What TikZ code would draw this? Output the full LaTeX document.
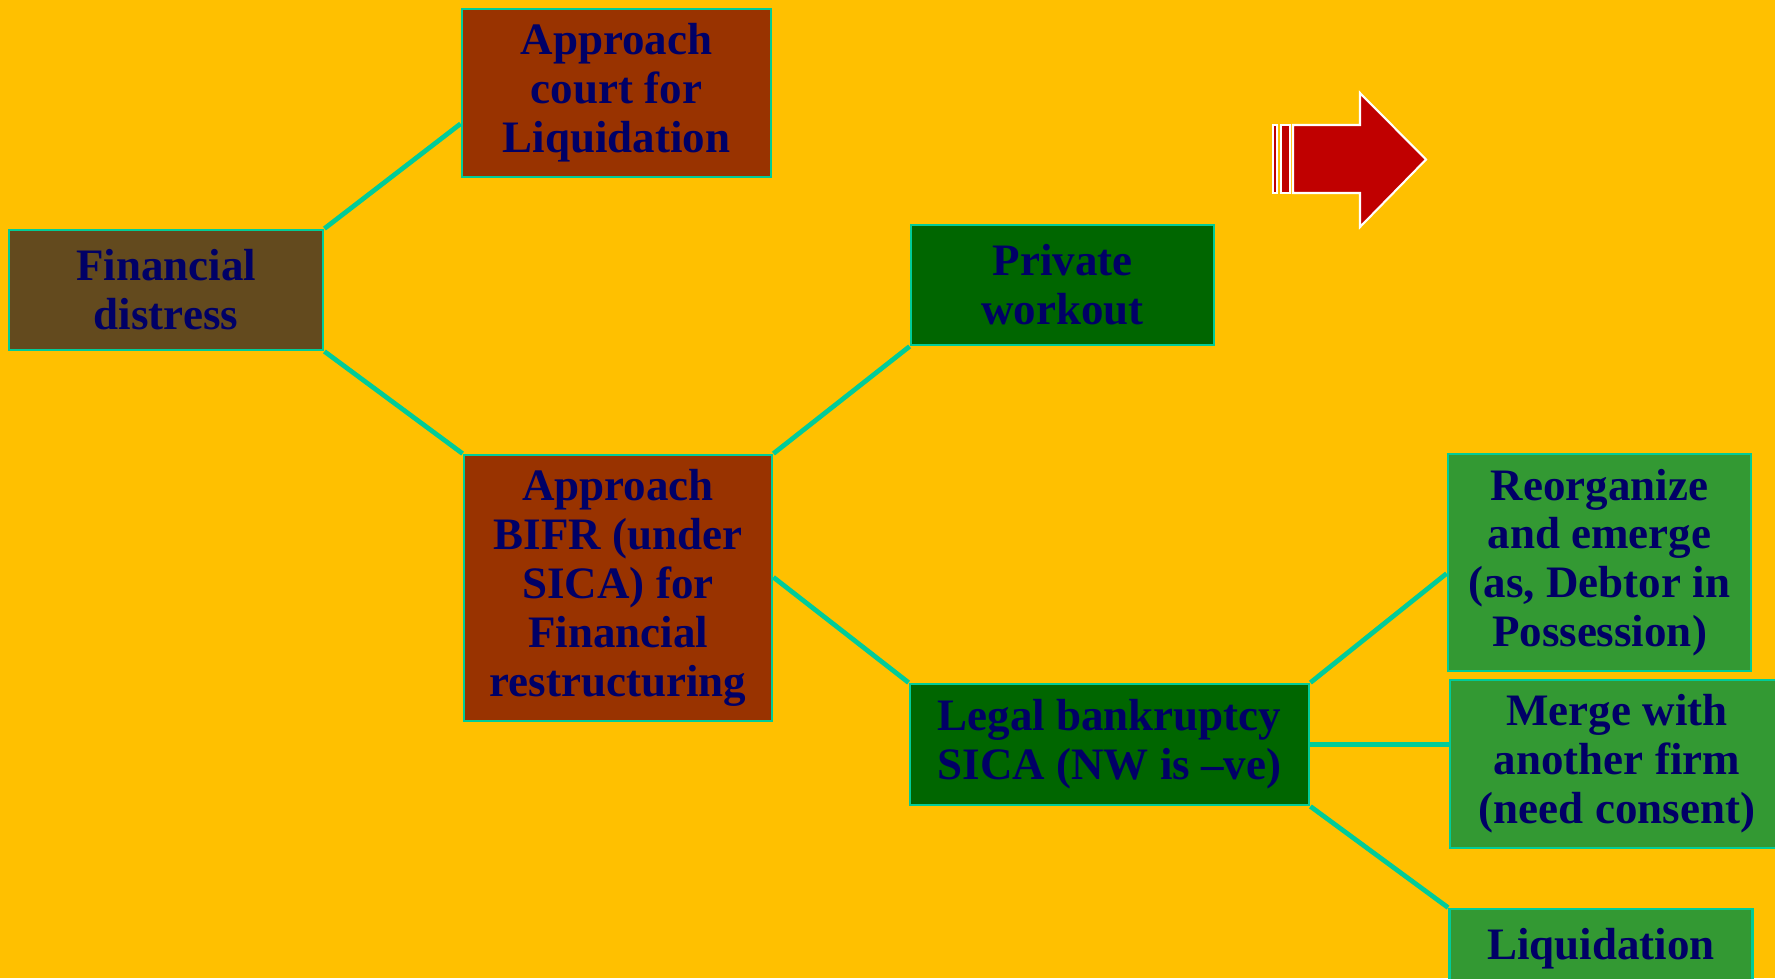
\documentclass[tikz,border=0pt]{standalone}
\usepackage{fontspec}
\setmainfont{Liberation Serif}
\usetikzlibrary{calc}
\definecolor{bgorange}{HTML}{FFC000}
\definecolor{edgeteal}{HTML}{00CC99}
\definecolor{textnavy}{HTML}{000066}
\definecolor{distressbrown}{HTML}{634A1E}
\definecolor{approachrust}{HTML}{993300}
\definecolor{darkgreen}{HTML}{006600}
\definecolor{leafgreen}{HTML}{339933}
\definecolor{arrowred}{HTML}{C00000}

\begin{document}
\begin{tikzpicture}[
  box/.style={draw=edgeteal, line width=0.8pt, inner sep=0pt, align=center,
    text=textnavy, font=\bfseries\fontsize{12.8}{13.9}\selectfont},
  link/.style={draw=edgeteal, line width=1.35pt}
]

\fill[bgorange] (0,0) rectangle (17.75,-9.78);
\useasboundingbox (0,0) rectangle (17.75,-9.78);
\clip (0,0) rectangle (17.75,-9.78);

\coordinate (FD) at (1.66,-2.90);
\coordinate (CO) at (6.165,-0.93);
\coordinate (PW) at (10.625,-2.85);
\coordinate (BI) at (6.18,-5.88);
\coordinate (LE) at (11.095,-7.445);
\coordinate (RE) at (15.995,-5.625);
\coordinate (ME) at (16.17,-7.64);
\coordinate (LI) at (16.01,-9.49);

\node[box, fill=distressbrown, minimum width=3.14cm, minimum height=1.20cm] (fd) at (FD) {Financial\\distress};
\node[box, fill=approachrust, minimum width=3.09cm, minimum height=1.68cm] (court) at (CO) {Approach\\court for\\Liquidation};
\node[box, fill=darkgreen, minimum width=3.03cm, minimum height=1.20cm] (pw) at (PW) {Private\\workout};
\node[box, fill=approachrust, minimum width=3.08cm, minimum height=2.66cm] (bifr) at (BI) {Approach\\BIFR (under\\SICA) for\\Financial\\restructuring};
\node[box, fill=darkgreen, minimum width=3.99cm, minimum height=1.21cm] (legal) at (LE) {Legal bankruptcy\\SICA (NW is –ve)};
\node[box, fill=leafgreen, minimum width=3.03cm, minimum height=2.17cm] (reorg) at (RE) {Reorganize\\and emerge\\(as, Debtor in\\Possession)};
\node[box, fill=leafgreen, minimum width=3.34cm, minimum height=1.68cm] (merge) at (ME) {Merge with\\another firm\\(need consent)};
\node[box, fill=leafgreen, minimum width=3.03cm, minimum height=0.80cm] (liq) at (LI) {Liquidation};

\draw[link] (fd.north east) -- ($(court.south west)!0.32!(court.north west)$);
\draw[link] (fd.south east) -- (bifr.north west);
\draw[link] (bifr.north east) -- (pw.south west);
\draw[link] ($(bifr.north east)!0.46!(bifr.south east)$) -- (legal.north west);
\draw[link] (legal.north east) -- ($(reorg.north west)!0.55!(reorg.south west)$);
\draw[link] (legal.east) -- (legal.east -| merge.west);
\draw[link] (legal.south east) -- (liq.north west);

% block arrow
\draw[fill=arrowred, draw=white, line width=0.6pt] (12.73,-1.25) rectangle (12.77,-1.93);
\draw[fill=arrowred, draw=white, line width=0.6pt] (12.81,-1.25) rectangle (12.90,-1.93);
\draw[fill=arrowred, draw=white, line width=0.6pt] (12.93,-1.25) -- (13.60,-1.25) -- (13.60,-0.93) -- (14.26,-1.595) -- (13.60,-2.27) -- (13.60,-1.93) -- (12.93,-1.93) -- cycle;

\end{tikzpicture}
\end{document}
